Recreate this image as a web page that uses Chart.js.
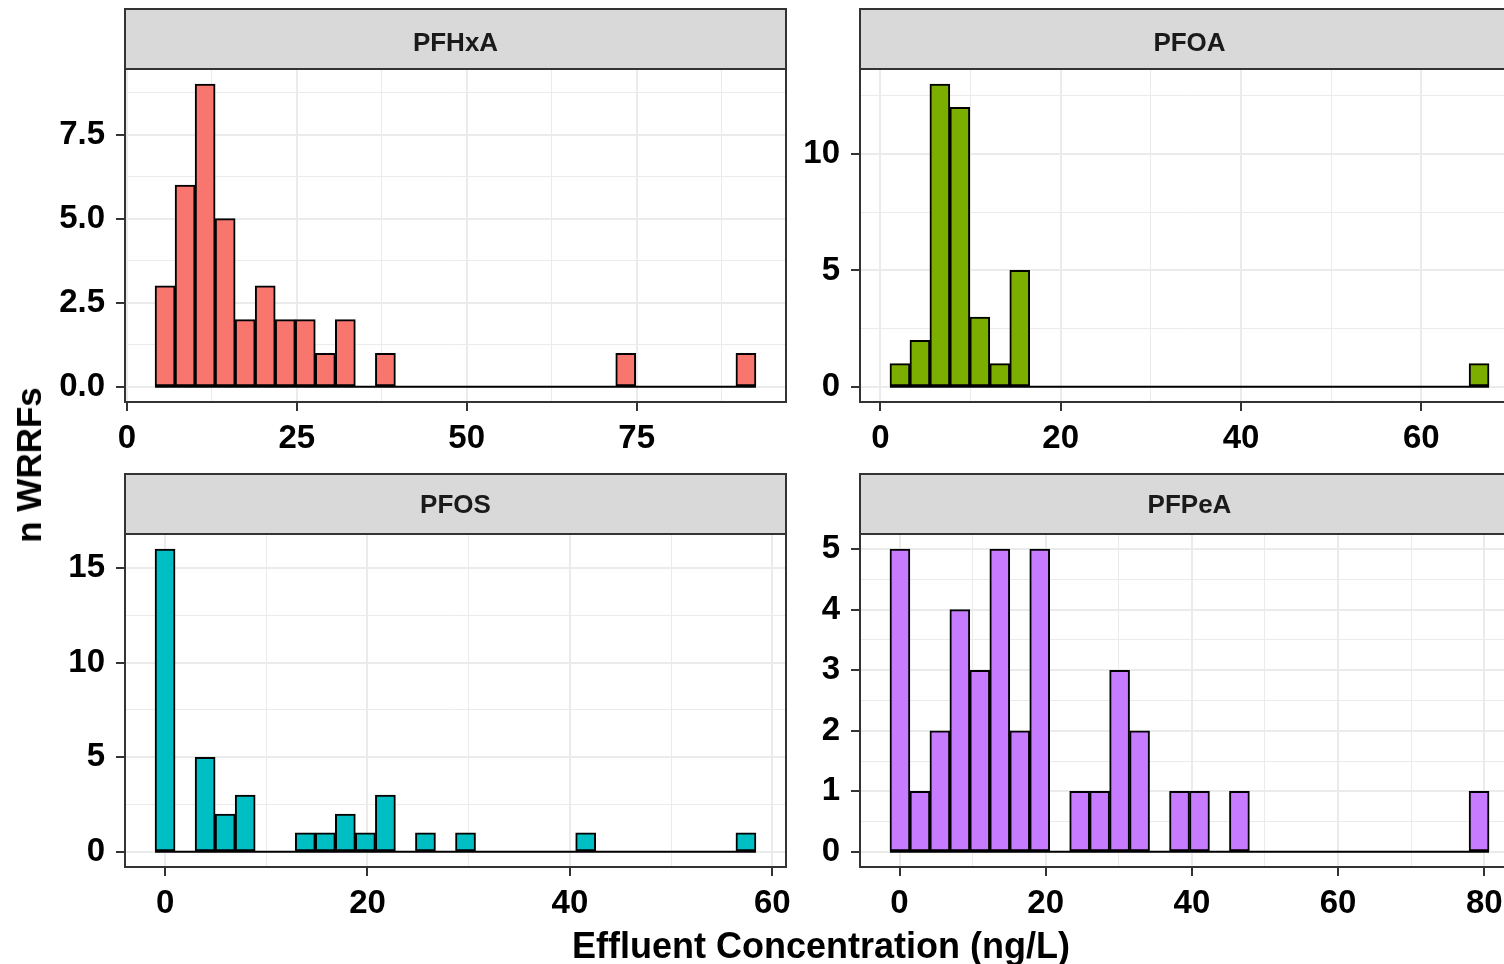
<!DOCTYPE html>
<html>
<head>
<meta charset="utf-8">
<title>Effluent concentration histograms</title>
<script src="https://cdn.jsdelivr.net/npm/chart.js@4.4.1/dist/chart.umd.min.js"></script>
<style>
    html, body { margin: 0; padding: 0; background: #fff; }
    body { width: 1504px; height: 964px; overflow: hidden; position: relative; font-family: "Liberation Sans", Arial, sans-serif; }
    canvas { position: absolute; }
    #pfhxa { left: 40px; top: 0px; }
    #pfoa  { left: 790px; top: 0px; }
    #pfos  { left: 40px; top: 465px; }
    #pfpea { left: 790px; top: 465px; }
    .axis-title { position: absolute; font-weight: bold; font-size: 35px; color: #000; white-space: nowrap; }
    #yTitle { left: 29px; top: 465px; transform: translate(-50%, -50%) rotate(-90deg); }
    #xTitle { left: 821px; top: 946px; transform: translate(-50%, -50%); font-size: 36px; }
</style>
</head>
<body>
<canvas id="pfhxa" width="760" height="470"></canvas>
<canvas id="pfoa" width="750" height="470"></canvas>
<canvas id="pfos" width="760" height="470"></canvas>
<canvas id="pfpea" width="750" height="470"></canvas>
<div id="yTitle" class="axis-title">n WRRFs</div>
<div id="xTitle" class="axis-title">Effluent Concentration (ng/L)</div>

<script>
// === DATA (30 bins per compound, counts) ===
const facetNames = ['PFHxA', 'PFOA', 'PFOS', 'PFPeA'];
const facetColors = ['#F8766D', '#7CAE00', '#00BFC4', '#C77CFF'];

// centre of first bin + bin width (ng/L)
const pfhxaFirstBin = 5.62, pfhxaBinWidth = 2.947;
const pfoaFirstBin = 2.17, pfoaBinWidth = 2.215;
const pfosFirstBin = 0, pfosBinWidth = 1.979;
const pfpeaFirstBin = 0.06, pfpeaBinWidth = 2.732;

const pfhxaCounts = [3, 6, 9, 5, 2, 3, 2, 2, 1, 2, 0, 1, 0, 0, 0, 0, 0, 0, 0, 0, 0, 0, 0, 1, 0, 0, 0, 0, 0, 1];
const pfoaCounts  = [1, 2, 13, 12, 3, 1, 5, 0, 0, 0, 0, 0, 0, 0, 0, 0, 0, 0, 0, 0, 0, 0, 0, 0, 0, 0, 0, 0, 0, 1];
const pfosCounts  = [16, 0, 5, 2, 3, 0, 0, 1, 1, 2, 1, 3, 0, 1, 0, 1, 0, 0, 0, 0, 0, 1, 0, 0, 0, 0, 0, 0, 0, 1];
const pfpeaCounts = [5, 1, 2, 4, 3, 5, 2, 5, 0, 1, 1, 3, 2, 0, 1, 1, 0, 1, 0, 0, 0, 0, 0, 0, 0, 0, 0, 0, 0, 1];

// tick labels
const pfhxaXTicks = [0, 25, 50, 75];
const pfhxaYTicks = [0, 2.5, 5, 7.5];
const pfoaXTicks = [0, 20, 40, 60];
const pfoaYTicks = [0, 5, 10];
const pfosXTicks = [0, 20, 40, 60];
const pfosYTicks = [0, 5, 10, 15];
const pfpeaXTicks = [0, 20, 40, 60, 80];
const pfpeaYTicks = [0, 1, 2, 3, 4, 5];

const FONT = '"Liberation Sans", Arial, sans-serif';

// grey strip with facet name + dark panel border (ggplot theme_bw look)
const facetStrip = {
    id: 'facetStrip',
    afterDraw: function(chart, args, opts) {
        const ctx = chart.ctx;
        const a = chart.chartArea;
        const h = opts.height;
        ctx.save();
        ctx.fillStyle = '#d9d9d9';
        ctx.fillRect(a.left, a.top - h, a.right - a.left, h);
        ctx.strokeStyle = '#333333';
        ctx.lineWidth = 2;
        ctx.strokeRect(a.left, a.top - h, a.right - a.left, h);
        ctx.strokeRect(a.left, a.top, a.right - a.left, a.bottom - a.top);
        ctx.fillStyle = '#1a1a1a';
        ctx.font = 'bold 26px ' + FONT;
        ctx.textAlign = 'center';
        ctx.textBaseline = 'middle';
        ctx.fillText(opts.text, (a.left + a.right) / 2, a.top - h / 2 + opts.textShift);
        ctx.restore();
    }
};

// majors plus the minor gridlines half-way between them
function withMinors(majors, min, max) {
    const step = majors[1] - majors[0];
    const all = majors.slice();
    for (let v = majors[0] - step / 2; v <= max; v += step) {
        if (v >= min) all.push(v);
    }
    return all.sort((a, b) => a - b);
}

function axisOptions(majors, min, max, decimals, fitSize, horizontal) {
    const isMajor = v => majors.some(m => Math.abs(m - v) < 1e-9);
    return {
        type: 'linear',
        offset: false,
        min: min,
        max: max,
        afterBuildTicks: function(scale) {
            scale.ticks = withMinors(majors, min, max).map(v => ({ value: v }));
        },
        afterFit: function(scale) {
            if (horizontal) scale.height = fitSize; else scale.width = fitSize;
        },
        border: { display: false },
        grid: {
            offset: false,
            color: '#ebebeb',
            lineWidth: ctx => isMajor(ctx.tick.value) ? 2 : 1,
            tickColor: ctx => isMajor(ctx.tick.value) ? '#333333' : 'rgba(0,0,0,0)',
            tickLength: 9,
            tickWidth: 2
        },
        ticks: {
            autoSkip: false,
            maxRotation: 0,
            padding: horizontal ? 8 : 11,
            color: '#000',
            font: { family: FONT, size: 33, weight: 'bold' },
            callback: function(value) {
                return isMajor(value) ? value.toFixed(decimals) : '';
            }
        }
    };
}

function makeFacet(canvasId, idx, firstBin, binWidth, counts, xTicks, yTicks, yDecimals, yAxisWidth, padRight, textShift) {
    const bars = counts.map((c, i) => ({ x: firstBin + i * binWidth, y: c }));
    const lo = firstBin - binWidth / 2;
    const hi = firstBin + (counts.length - 0.5) * binWidth;
    const xPad = (hi - lo) * 0.05;
    const yMax = Math.max(...counts);

    new Chart(document.getElementById(canvasId), {
        type: 'bar',
        data: {
            datasets: [
                {
                    // outline along zero for the empty bins
                    type: 'line',
                    data: [{ x: lo, y: 0 }, { x: hi, y: 0 }],
                    borderColor: '#000',
                    borderWidth: 2,
                    pointRadius: 0,
                    order: 0
                },
                {
                    label: facetNames[idx],
                    data: bars,
                    backgroundColor: facetColors[idx],
                    borderColor: '#000',
                    borderWidth: 2,
                    borderSkipped: false,
                    barPercentage: 1,
                    categoryPercentage: 1,
                    order: 1
                }
            ]
        },
        options: {
            responsive: false,
            animation: false,
            events: [],
            layout: { padding: { top: 69, left: 0, right: padRight, bottom: 4 } },
            plugins: {
                legend: { display: false },
                tooltip: { enabled: false },
                facetStrip: { text: facetNames[idx], height: 60, textShift: textShift }
            },
            scales: {
                x: axisOptions(xTicks, lo - xPad, hi + xPad, 0, 64, true),
                y: axisOptions(yTicks, -yMax * 0.05, yMax * 1.05, yDecimals, yAxisWidth, false)
            }
        },
        plugins: [facetStrip]
    });
}

document.addEventListener('DOMContentLoaded', function() {
    makeFacet('pfhxa', 0, pfhxaFirstBin, pfhxaBinWidth, pfhxaCounts, pfhxaXTicks, pfhxaYTicks, 1, 85, 14, 5);
    makeFacet('pfoa', 1, pfoaFirstBin, pfoaBinWidth, pfoaCounts, pfoaXTicks, pfoaYTicks, 0, 70, 21, 5);
    makeFacet('pfos', 2, pfosFirstBin, pfosBinWidth, pfosCounts, pfosXTicks, pfosYTicks, 0, 85, 14, 2);
    makeFacet('pfpea', 3, pfpeaFirstBin, pfpeaBinWidth, pfpeaCounts, pfpeaXTicks, pfpeaYTicks, 0, 70, 21, 2);
});
</script>
</body>
</html>
